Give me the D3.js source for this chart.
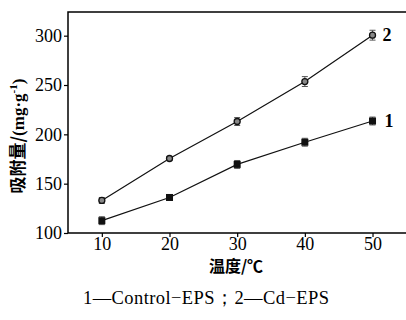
<!DOCTYPE html>
<html>
<head>
<meta charset="utf-8">
<script src="https://cdn.jsdelivr.net/npm/d3@7"></script>
<style>
  body { margin: 0; background: #fff; }
  svg { display: block; }
</style>
</head>
<body>
<svg id="chart" width="406" height="320"></svg>
<script>
// temperatures (°C)
var temps = [10, 20, 30, 40, 50];
// 1 - Control-EPS
var control = [112.5, 136, 169.5, 192, 213.5];
var controlErr = [4, 2, 4, 4, 4];
// 2 - Cd-EPS
var cdEps = [133, 175.5, 213, 253.5, 300.5];
var cdErr = [3, 2, 4, 5, 5];
var xTicks = [10, 20, 30, 40, 50];
var yTicks = [100, 150, 200, 250, 300];

var svg = d3.select('#chart');
var plotL = 68, plotR = 405, plotT = 12, plotB = 233;

var x = d3.scaleLinear().domain([5, 54.8]).range([plotL, plotR]);
var y = d3.scaleLinear().domain([100, 324]).range([plotB, plotT]);

var serif = "'Liberation Serif', 'Times New Roman', serif";
var cjk = "'Noto Sans CJK SC', sans-serif";

// frame: left, top, bottom (right side runs off the picture)
svg.append("path")
    .attr("d", `M${plotR + 2},${plotT}H${plotL}V${plotB}H${plotR + 2}`)
    .attr("fill", "none")
    .attr("stroke", "#000")
    .attr("stroke-width", 1.5);

var xAxis = svg.append("g")
    .attr("transform", `translate(0,${plotB})`)
    .call(d3.axisBottom(x).tickValues(xTicks).tickSize(4).tickPadding(1));
var yAxis = svg.append("g")
    .attr("transform", `translate(${plotL},0)`)
    .call(d3.axisLeft(y).tickValues(yTicks).tickSize(4).tickPadding(2));

[xAxis, yAxis].forEach(function(ax) {
    ax.select(".domain").remove();
    ax.selectAll("line").attr("stroke", "#000").attr("stroke-width", 1.2);
    ax.selectAll("text")
        .attr("fill", "#000")
        .attr("font-family", serif)
        .attr("font-size", 18);
});
xAxis.selectAll("text").attr("dy", "0.66em");

var line = d3.line().x((d, i) => x(temps[i])).y(d => y(d));

function drawSeries(vals, errs, shape) {
    svg.append("path")
        .datum(vals)
        .attr("d", line)
        .attr("fill", "none")
        .attr("stroke", "#111")
        .attr("stroke-width", 1.2);

    var g = svg.append("g");
    vals.forEach(function(v, i) {
        var cx = x(temps[i]);
        var y0 = y(v - errs[i]), y1 = y(v + errs[i]);
        g.append("path")
            .attr("d", `M${cx - 3},${y0}H${cx + 3}M${cx},${y0}V${y1}M${cx - 3},${y1}H${cx + 3}`)
            .attr("stroke", "#555")
            .attr("stroke-width", 1)
            .attr("fill", "none");
        if (shape == "square") {
            g.append("rect")
                .attr("x", cx - 3.5).attr("y", y(v) - 3.5)
                .attr("width", 7).attr("height", 7)
                .attr("fill", "#111");
        } else {
            g.append("circle")
                .attr("cx", cx).attr("cy", y(v))
                .attr("r", 3)
                .attr("fill", "#888")
                .attr("stroke", "#111")
                .attr("stroke-width", 1.3);
        }
    });
}

drawSeries(cdEps, cdErr, "circle");
drawSeries(control, controlErr, "square");

// series labels
svg.append("text")
    .attr("x", x(50) + 10).attr("y", y(cdEps[4]) + 6)
    .attr("font-family", serif).attr("font-size", 18).attr("font-weight", "bold")
    .text("2");
svg.append("text")
    .attr("x", x(50) + 12).attr("y", y(control[4]) + 6)
    .attr("font-family", serif).attr("font-size", 18).attr("font-weight", "bold")
    .text("1");

// axis titles
svg.append("text")
    .attr("transform", `translate(24,136) rotate(-90)`)
    .attr("text-anchor", "middle")
    .attr("font-size", 17)
    .attr("font-weight", "bold")
    .attr("font-family", cjk)
    .html("吸附量/<tspan font-family=\"" + serif + "\">(mg·g<tspan dy='-7' font-size='11'>-1</tspan><tspan dy='7'>)</tspan></tspan>");

svg.append("text")
    .attr("x", 236).attr("y", 272)
    .attr("text-anchor", "middle")
    .attr("font-size", 16)
    .attr("font-weight", "bold")
    .attr("font-family", cjk)
    .text("温度/℃");

svg.append("text")
    .attr("x", 83).attr("y", 304)
    .attr("textLength", 246)
    .attr("lengthAdjust", "spacing")
    .attr("font-size", 18.5)
    .attr("font-family", serif)
    .text("1—Control−EPS；2—Cd−EPS");
</script>
</body>
</html>
